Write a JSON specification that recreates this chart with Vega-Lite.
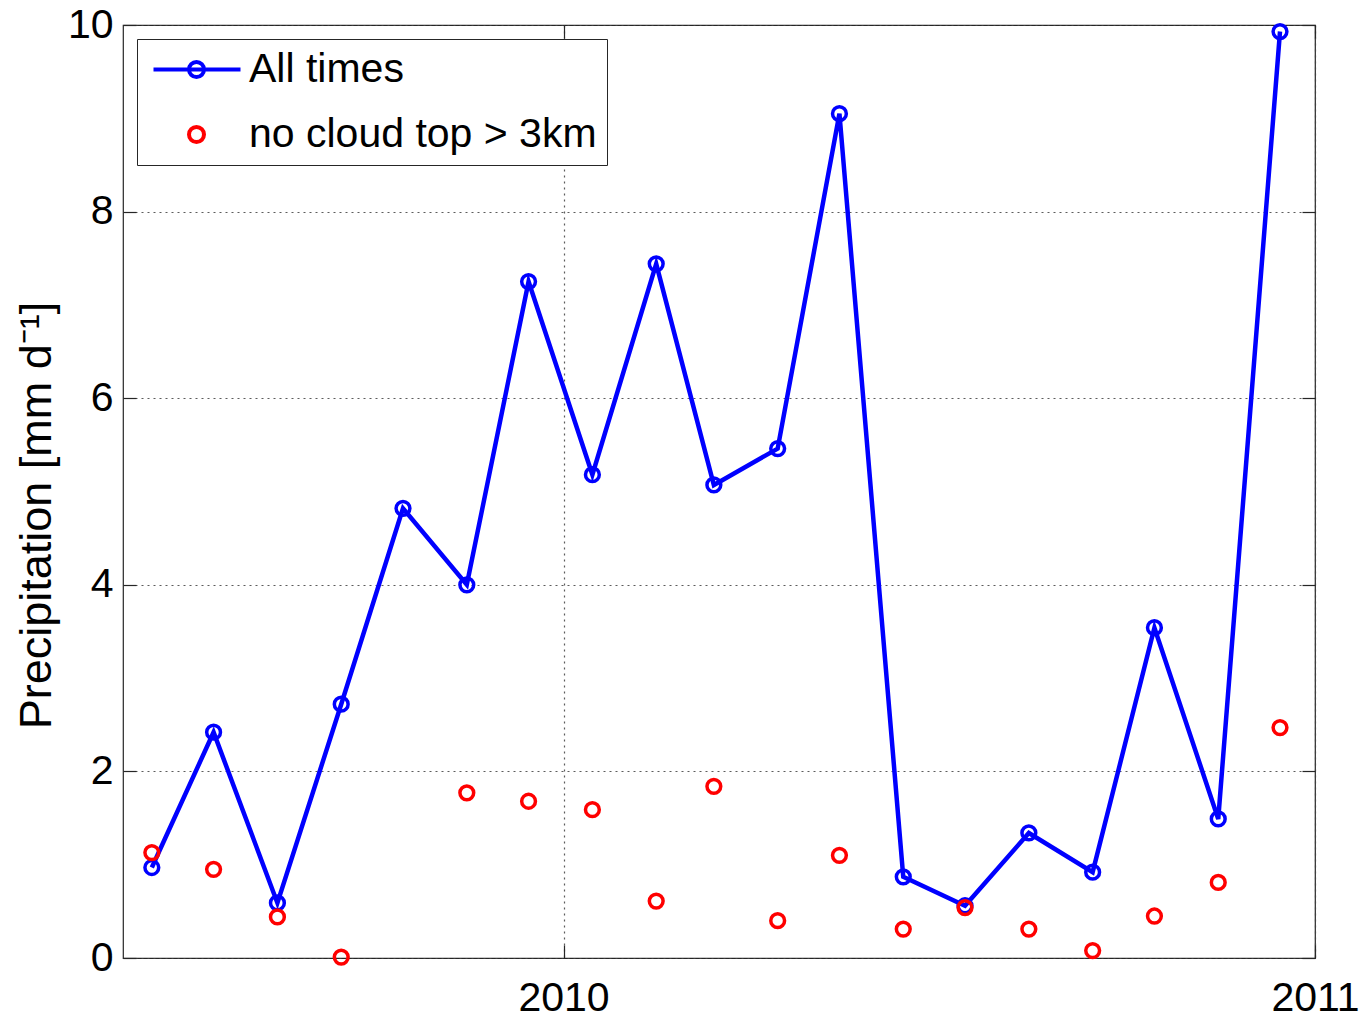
{
  "$schema": "https://vega.github.io/schema/vega-lite/v6.json",
  "width": 1192,
  "height": 933,
  "autosize": {"type": "none"},
  "padding": {"left": 123, "top": 25, "right": 45, "bottom": 65},
  "background": "white",
  "config": {
    "font": "Liberation Sans",
    "view": {"stroke": "#262626", "strokeWidth": 1.2},
    "axis": {
      "labelFont": "Liberation Sans",
      "labelFontSize": 41,
      "labelColor": "black",
      "tickColor": "#262626",
      "tickWidth": 1.2,
      "tickSize": -13,
      "domain": false,
      "gridColor": "#404040",
      "gridDash": [2, 4],
      "gridWidth": 1.2,
      "gridOpacity": 0.85,
      "labelOverlap": false,
      "labelFlush": false
    }
  },
  "data": {
    "values": [
      {"date": "2009-06-15", "series": "All times", "value": 0.97},
      {"date": "2009-07-15", "series": "All times", "value": 2.42},
      {"date": "2009-08-15", "series": "All times", "value": 0.59},
      {"date": "2009-09-15", "series": "All times", "value": 2.72},
      {"date": "2009-10-15", "series": "All times", "value": 4.82},
      {"date": "2009-11-15", "series": "All times", "value": 4.0},
      {"date": "2009-12-15", "series": "All times", "value": 7.25},
      {"date": "2010-01-15", "series": "All times", "value": 5.18},
      {"date": "2010-02-15", "series": "All times", "value": 7.44},
      {"date": "2010-03-15", "series": "All times", "value": 5.07},
      {"date": "2010-04-15", "series": "All times", "value": 5.46},
      {"date": "2010-05-15", "series": "All times", "value": 9.05},
      {"date": "2010-06-15", "series": "All times", "value": 0.87},
      {"date": "2010-07-15", "series": "All times", "value": 0.56},
      {"date": "2010-08-15", "series": "All times", "value": 1.34},
      {"date": "2010-09-15", "series": "All times", "value": 0.92},
      {"date": "2010-10-15", "series": "All times", "value": 3.54},
      {"date": "2010-11-15", "series": "All times", "value": 1.49},
      {"date": "2010-12-15", "series": "All times", "value": 9.93},
      {"date": "2009-06-15", "series": "no cloud top > 3km", "value": 1.13},
      {"date": "2009-07-15", "series": "no cloud top > 3km", "value": 0.95},
      {"date": "2009-08-15", "series": "no cloud top > 3km", "value": 0.44},
      {"date": "2009-09-15", "series": "no cloud top > 3km", "value": 0.01},
      {"date": "2009-11-15", "series": "no cloud top > 3km", "value": 1.77},
      {"date": "2009-12-15", "series": "no cloud top > 3km", "value": 1.68},
      {"date": "2010-01-15", "series": "no cloud top > 3km", "value": 1.59},
      {"date": "2010-02-15", "series": "no cloud top > 3km", "value": 0.61},
      {"date": "2010-03-15", "series": "no cloud top > 3km", "value": 1.84},
      {"date": "2010-04-15", "series": "no cloud top > 3km", "value": 0.4},
      {"date": "2010-05-15", "series": "no cloud top > 3km", "value": 1.1},
      {"date": "2010-06-15", "series": "no cloud top > 3km", "value": 0.31},
      {"date": "2010-07-15", "series": "no cloud top > 3km", "value": 0.54},
      {"date": "2010-08-15", "series": "no cloud top > 3km", "value": 0.31},
      {"date": "2010-09-15", "series": "no cloud top > 3km", "value": 0.08},
      {"date": "2010-10-15", "series": "no cloud top > 3km", "value": 0.45},
      {"date": "2010-11-15", "series": "no cloud top > 3km", "value": 0.81},
      {"date": "2010-12-15", "series": "no cloud top > 3km", "value": 2.47}
    ]
  },
  "layer": [
    {
      "transform": [{"filter": "datum.series === 'All times'"}],
      "mark": {"type": "line", "color": "#0000ff", "strokeWidth": 4.5},
      "encoding": {
        "x": {
          "field": "date",
          "type": "temporal",
          "scale": {"type": "utc", "domain": ["2009-06-01", "2011-01-01"]},
          "axis": {
            "orient": "bottom",
            "values": [
              {"year": 2010, "month": 1, "date": 1, "utc": true},
              {"year": 2011, "month": 1, "date": 1, "utc": true}
            ],
            "format": "%Y",
            "title": null,
            "grid": true,
            "labelPadding": 33
          }
        },
        "y": {
          "field": "value",
          "type": "quantitative",
          "scale": {"domain": [0, 10], "nice": false, "zero": true},
          "axis": {
            "orient": "left",
            "values": [0, 2, 4, 6, 8, 10],
            "grid": true,
            "labelPadding": 23,
            "title": "Precipitation [mm d⁻¹]",
            "titleFont": "Liberation Sans",
            "titleFontSize": 45,
            "titleFontWeight": "normal",
            "titleColor": "black",
            "titleAngle": -90,
            "titleBaseline": "alphabetic",
            "titleAlign": "center",
            "titleX": -73,
            "titleY": 490
          }
        }
      }
    },
    {
      "mark": {"type": "point", "filled": false, "size": 190, "strokeWidth": 3.5, "opacity": 1},
      "encoding": {
        "x": {
          "field": "date",
          "type": "temporal",
          "axis": {
            "orient": "top",
            "values": [
              {"year": 2010, "month": 1, "date": 1, "utc": true},
              {"year": 2011, "month": 1, "date": 1, "utc": true}
            ],
            "labels": false,
            "grid": false,
            "title": null
          }
        },
        "y": {
          "field": "value",
          "type": "quantitative",
          "axis": {
            "orient": "right",
            "values": [0, 2, 4, 6, 8, 10],
            "labels": false,
            "grid": false,
            "title": null
          }
        },
        "color": {
          "condition": {"test": "datum.series === 'All times'", "value": "#0000ff"},
          "value": "#ff0000"
        }
      }
    },
    {
      "transform": [{"filter": "datum.value < 0"}],
      "mark": {"type": "point", "filled": false, "size": 400, "strokeWidth": 4},
      "encoding": {
        "color": {
          "field": "series",
          "type": "nominal",
          "scale": {"domain": ["All times", "no cloud top > 3km"], "range": ["#0000ff", "#ff0000"]},
          "legend": {
            "title": null,
            "orient": "none",
            "legendX": 14,
            "legendY": 14,
            "fillColor": "white",
            "strokeColor": "#262626",
            "padding": 10,
            "labelFont": "Liberation Sans",
            "labelFontSize": 41,
            "labelColor": "black",
            "labelLimit": 600,
            "symbolSize": 400,
            "symbolStrokeWidth": 4,
            "symbolOpacity": 1,
            "symbolOffset": 29,
            "labelOffset": 32,
            "rowPadding": 23
          }
        },
        "shape": {
          "field": "series",
          "type": "nominal",
          "scale": {
            "domain": ["All times", "no cloud top > 3km"],
            "range": [
              "M-4.3,0L4.4,0M-0.75,0A0.75,0.75,0,1,1,0.75,0A0.75,0.75,0,1,1,-0.75,0",
              "M-0.75,0A0.75,0.75,0,1,1,0.75,0A0.75,0.75,0,1,1,-0.75,0"
            ]
          },
          "legend": {
            "title": null,
            "orient": "none",
            "legendX": 14,
            "legendY": 14,
            "fillColor": "white",
            "strokeColor": "#262626",
            "padding": 10,
            "labelFont": "Liberation Sans",
            "labelFontSize": 41,
            "labelColor": "black",
            "labelLimit": 600,
            "symbolSize": 400,
            "symbolStrokeWidth": 4,
            "symbolOpacity": 1,
            "symbolOffset": 29,
            "labelOffset": 32,
            "rowPadding": 23
          }
        }
      }
    }
  ],
  "resolve": {"axis": {"x": "independent", "y": "independent"}}
}
